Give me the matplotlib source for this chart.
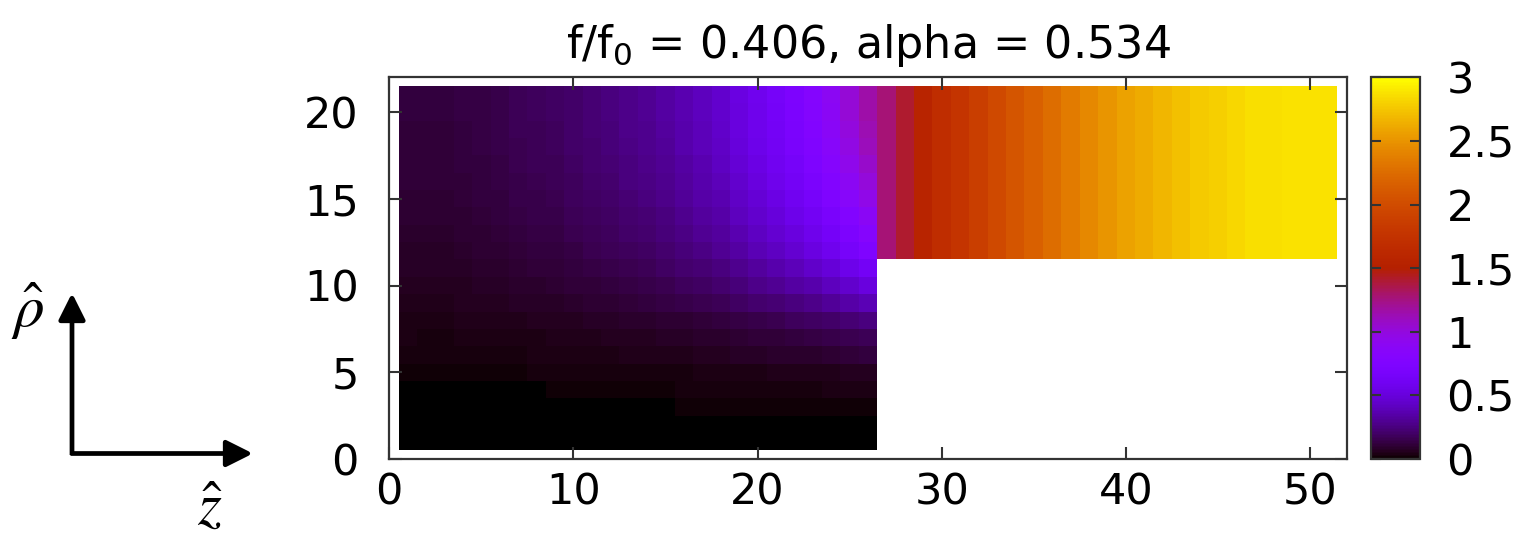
import numpy as np
import matplotlib
matplotlib.use("Agg")
import matplotlib.pyplot as plt

# ---------------- data ----------------
title_text = "f/f$_0$ = 0.406, alpha = 0.534"
x_ticks = [0, 10, 20, 30, 40, 50]
y_ticks = [0, 5, 10, 15, 20]
cbar_ticks = [0, 0.5, 1, 1.5, 2, 2.5, 3]
cbar_labels = ["0", "0.5", "1", "1.5", "2", "2.5", "3"]

# z cell centres 1..51, rho cell centres 1..21
z_cells = list(range(1, 52))
rho_cells = list(range(1, 22))

# lower-left block (z = 1..26), rows listed from rho = 21 (top) down to rho = 1
left_block_top_down = [
    [0.12,0.12,0.12,0.13,0.14,0.15,0.17,0.18,0.19,0.21,0.23,0.25,0.28,0.30,0.33,0.37,0.41,0.45,0.52,0.58,0.65,0.72,0.80,0.90,1.03,1.16],
    [0.12,0.12,0.12,0.13,0.14,0.15,0.17,0.18,0.19,0.21,0.23,0.25,0.28,0.30,0.33,0.37,0.41,0.45,0.51,0.57,0.64,0.71,0.79,0.89,1.02,1.15],
    [0.116,0.116,0.116,0.126,0.136,0.146,0.165,0.175,0.184,0.204,0.223,0.243,0.272,0.291,0.320,0.359,0.398,0.437,0.504,0.563,0.631,0.698,0.776,0.873,0.999,1.125],
    [0.114,0.114,0.114,0.124,0.133,0.143,0.162,0.171,0.181,0.200,0.219,0.238,0.266,0.285,0.314,0.352,0.390,0.428,0.494,0.551,0.618,0.684,0.760,0.855,0.979,1.102],
    [0.110,0.110,0.110,0.119,0.128,0.138,0.156,0.165,0.174,0.193,0.211,0.229,0.256,0.274,0.302,0.338,0.374,0.411,0.475,0.529,0.593,0.656,0.729,0.820,0.938,1.056],
    [0.107,0.107,0.107,0.115,0.124,0.133,0.150,0.159,0.168,0.186,0.203,0.220,0.247,0.264,0.290,0.325,0.359,0.394,0.455,0.508,0.567,0.629,0.698,0.784,0.897,1.009],
    [0.102,0.102,0.102,0.110,0.118,0.127,0.143,0.152,0.160,0.177,0.193,0.210,0.234,0.251,0.275,0.308,0.340,0.373,0.430,0.479,0.536,0.593,0.659,0.740,0.846,0.951],
    [0.096,0.096,0.096,0.104,0.111,0.119,0.134,0.142,0.150,0.165,0.181,0.196,0.218,0.234,0.257,0.287,0.317,0.348,0.401,0.446,0.500,0.552,0.612,0.687,0.784,0.882],
    [0.090,0.090,0.090,0.097,0.104,0.111,0.126,0.133,0.140,0.154,0.168,0.182,0.203,0.217,0.238,0.266,0.294,0.322,0.371,0.413,0.462,0.510,0.565,0.634,0.723,0.812],
    [0.082,0.082,0.081,0.088,0.095,0.101,0.114,0.120,0.127,0.140,0.153,0.166,0.185,0.198,0.217,0.243,0.268,0.294,0.339,0.377,0.421,0.465,0.516,0.579,0.662,0.742],
    [0.074,0.074,0.074,0.079,0.085,0.091,0.102,0.108,0.113,0.124,0.135,0.146,0.163,0.173,0.190,0.212,0.233,0.255,0.292,0.324,0.361,0.398,0.440,0.491,0.559,0.626],
    [0.066,0.066,0.065,0.070,0.075,0.079,0.089,0.093,0.098,0.107,0.116,0.125,0.139,0.148,0.161,0.179,0.197,0.214,0.245,0.270,0.300,0.330,0.362,0.404,0.457,0.510],
    [0.056,0.056,0.055,0.059,0.063,0.066,0.074,0.078,0.081,0.088,0.095,0.102,0.113,0.119,0.129,0.143,0.156,0.169,0.192,0.211,0.233,0.253,0.278,0.307,0.346,0.383],
    [0.046,0.045,0.044,0.047,0.050,0.052,0.058,0.060,0.063,0.068,0.073,0.078,0.085,0.089,0.096,0.105,0.114,0.122,0.138,0.150,0.164,0.177,0.191,0.210,0.233,0.255],
    [0.036,0.035,0.035,0.037,0.039,0.041,0.045,0.046,0.048,0.052,0.055,0.059,0.064,0.067,0.071,0.078,0.084,0.089,0.100,0.108,0.117,0.125,0.134,0.146,0.161,0.174],
    [0.028,0.028,0.027,0.029,0.030,0.031,0.034,0.036,0.037,0.039,0.042,0.044,0.047,0.049,0.052,0.057,0.061,0.065,0.072,0.077,0.083,0.088,0.093,0.101,0.110,0.118],
    [0.020,0.020,0.020,0.021,0.021,0.022,0.023,0.024,0.025,0.026,0.027,0.028,0.030,0.031,0.033,0.035,0.037,0.039,0.043,0.045,0.048,0.050,0.053,0.057,0.062,0.066],
    [0,0,0,0,0,0,0,0,0.015,0.016,0.017,0.017,0.018,0.019,0.020,0.024,0.025,0.026,0.028,0.029,0.031,0.032,0.034,0.036,0.039,0.042],
    [0,0,0,0,0,0,0,0,0,0,0,0,0,0,0,0.014,0.014,0.015,0.015,0.016,0.016,0.017,0.018,0.019,0.020,0.021],
    [0,0,0,0,0,0,0,0,0,0,0,0,0,0,0,0,0,0,0,0,0,0,0,0,0,0],
    [0,0,0,0,0,0,0,0,0,0,0,0,0,0,0,0,0,0,0,0,0,0,0,0,0,0],
]

# upper-right band (z = 27..51, rho = 12..21), constant along rho
upper_band = [1.27, 1.41, 1.56, 1.68, 1.76, 1.87, 1.97, 2.08, 2.16, 2.25, 2.35, 2.43,
              2.50, 2.57, 2.62, 2.68, 2.72, 2.77, 2.80, 2.83, 2.86, 2.86, 2.88, 2.88, 2.88]
band_rho_start = 12

# ---------------- assemble grid ----------------
nz, nr = len(z_cells), len(rho_cells)
grid = np.full((nr, nz), np.nan)
left = np.array(left_block_top_down[::-1])
grid[:, :left.shape[1]] = left
for j, rho in enumerate(rho_cells):
    if rho >= band_rho_start:
        grid[j, left.shape[1]:] = upper_band

z_edges = np.concatenate([[z_cells[0] - 0.5], np.array(z_cells) + 0.5])
r_edges = np.concatenate([[rho_cells[0] - 0.5], np.array(rho_cells) + 0.5])

# ---------------- figure ----------------
W, H = 1522, 535
fig = plt.figure(figsize=(W / 100, H / 100), dpi=100)
FS = 31
frame_col = "#333333"

ax = fig.add_axes([389.3 / W, (H - 459) / H, (1346.7 - 389.3) / W, (459 - 77.3) / H])
mesh = ax.pcolormesh(z_edges, r_edges, np.ma.masked_invalid(grid), cmap="gnuplot",
                     vmin=0, vmax=3, shading="flat", antialiased=False, linewidth=0)
ax.set_xlim(0, 52)
ax.set_ylim(0, 22)
ax.set_xticks(x_ticks)
ax.set_yticks(y_ticks)
ax.tick_params(direction="in", length=9, width=1.5, color=frame_col,
               top=True, right=True, labelsize=FS)
ax.tick_params(axis="x", pad=9)
ax.tick_params(axis="y", pad=22)
for s in ax.spines.values():
    s.set_linewidth(1.6)
    s.set_color(frame_col)
ax.set_title(title_text, fontsize=32, pad=14)

cax = fig.add_axes([1370.7 / W, (H - 459) / H, (1420 - 1370.7) / W, (459 - 77.3) / H])
cb = fig.colorbar(mesh, cax=cax)
cb.set_ticks(cbar_ticks)
cb.set_ticklabels(cbar_labels)
cax.tick_params(direction="in", length=7, width=1.5, color=frame_col,
                left=True, right=True, labelsize=FS, pad=19)
cb.outline.set_linewidth(1.6)
cb.outline.set_edgecolor(frame_col)

# coordinate arrows on the left
arrow_kw = dict(arrowstyle="-|>,head_length=0.9,head_width=0.45", lw=3.4, color="black",
                mutation_scale=18, shrinkA=0, shrinkB=0, capstyle="butt")
fig.add_artist(matplotlib.patches.FancyArrowPatch((72 / W, (H - 455) / H), (72 / W, (H - 293) / H),
                                                  transform=fig.transFigure, **arrow_kw))
fig.add_artist(matplotlib.patches.FancyArrowPatch((70.5 / W, (H - 453.5) / H), (253 / W, (H - 453.5) / H),
                                                  transform=fig.transFigure, **arrow_kw))
fig.text(28 / W, (H - 311) / H, r"$\hat{\rho}$", fontsize=44, ha="center", va="center",
         math_fontfamily="stix")
fig.text(210 / W, (H - 508) / H, r"$\hat{z}$", fontsize=44, ha="center", va="center",
         math_fontfamily="stix")

fig.savefig("out.png", dpi=100)
